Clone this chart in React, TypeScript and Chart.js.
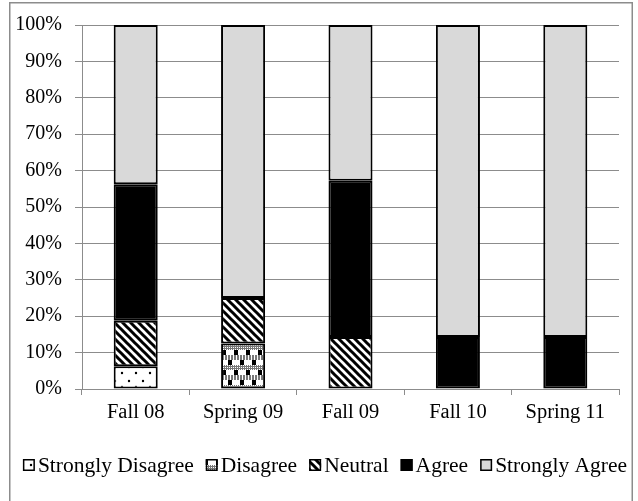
import React, { useEffect, useRef } from "react";
import { Chart, registerables } from "chart.js";

Chart.register(...registerables);

const categories = ["Fall 08", "Spring 09", "Fall 09", "Fall 10", "Spring 11"];
const stronglyDisagree = [6.25, 0, 0, 0, 0];
const disagree = [0, 12.5, 0, 0, 0];
const neutral = [12.5, 12.5, 14.3, 0, 0];
const agree = [37.5, 0, 42.9, 14.3, 14.3];
const stronglyAgree = [43.75, 75, 42.8, 85.7, 85.7];
const yTicks = [0, 10, 20, 30, 40, 50, 60, 70, 80, 90, 100];

const FONT = "'Liberation Serif', 'Times New Roman', serif";

function makeTile(w: number, h: number, draw: (c: CanvasRenderingContext2D) => void): CanvasPattern | string {
  const cv = document.createElement("canvas");
  cv.width = w;
  cv.height = h;
  const c = cv.getContext("2d");
  if (!c) return "#888";
  draw(c);
  const p = c.createPattern(cv, "repeat");
  return p || "#888";
}

export default function App() {
  const ref = useRef<HTMLCanvasElement>(null);
  useEffect(() => {
    document.body.style.margin = "0";
    const canvas = ref.current;
    if (!canvas) return;

    const dots = makeTile(14, 14, (c) => {
      c.fillStyle = "#fff";
      c.fillRect(0, 0, 14, 14);
      c.fillStyle = "#000";
      c.beginPath();
      c.arc(3, 3, 1.2, 0, Math.PI * 2);
      c.arc(10, 9, 1.2, 0, Math.PI * 2);
      c.fill();
    });
    const checker = makeTile(12, 20, (c) => {
      c.fillStyle = "#fff";
      c.fillRect(0, 0, 12, 20);
      c.fillStyle = "#000";
      c.fillRect(0, 0, 4, 5);
      c.fillRect(6, 10, 4, 5);
      c.fillStyle = "#777";
      for (let x = 0; x < 12; x += 2) {
        c.fillRect(x, 5, 1, 5);
        c.fillRect(x + 1, 6, 1, 1);
        c.fillRect(x + 1, 8, 1, 1);
      }
      for (let x = 0; x < 12; x += 3) c.fillRect(x, 15, 2, 5);
    });
    const stripes = makeTile(8, 8, (c) => {
      c.fillStyle = "#fff";
      c.fillRect(0, 0, 8, 8);
      c.strokeStyle = "#000";
      c.lineWidth = 3;
      c.beginPath();
      c.moveTo(-2, -2);
      c.lineTo(10, 10);
      c.moveTo(-10, -2);
      c.lineTo(2, 10);
      c.moveTo(6, -2);
      c.lineTo(18, 10);
      c.stroke();
    });

    const borderPlugin = {
      id: "outerBorder",
      beforeDraw(chart: any) {
        const ctx = chart.ctx;
        ctx.save();
        ctx.fillStyle = "#fff";
        ctx.fillRect(0, 0, chart.width, chart.height);
        ctx.strokeStyle = "#8c8c8c";
        ctx.lineWidth = 1.5;
        ctx.strokeRect(9.75, 2.75, 622.5, 505);
        ctx.restore();
      },
    };

    const legendPlugin = {
      id: "customLegend",
      afterDraw(chart: any) {
        const ctx = chart.ctx;
        ctx.save();
        ctx.font = `21.5px ${FONT}`;
        const items = chart.data.datasets.map((d: any) => ({
          label: d.label,
          fill: d.backgroundColor,
          w: ctx.measureText(d.label).width,
        }));
        const box = 12;
        const gapText = 3;
        const gapItem = 12;
        const total =
          items.reduce((a: number, it: any) => a + box + gapText + it.w, 0) + gapItem * (items.length - 1);
        let x = 325 - total / 2;
        const cy = 465;
        ctx.textBaseline = "middle";
        ctx.fillStyle = "#000";
        for (const it of items) {
          ctx.fillStyle = it.fill;
          ctx.fillRect(x, cy - box / 2, box, box);
          ctx.strokeStyle = "#000";
          ctx.lineWidth = 1.5;
          ctx.strokeRect(x + 0.75, cy - box / 2 + 0.75, box - 1.5, box - 1.5);
          ctx.fillStyle = "#000";
          ctx.fillText(it.label, x + box + gapText, cy + 1);
          x += box + gapText + it.w + gapItem;
        }
        ctx.restore();
      },
    };

    const mk = (label: string, data: number[], bg: any) => ({
      label,
      data,
      backgroundColor: bg,
      borderColor: "#000",
      borderWidth: 2,
      borderSkipped: false,
      categoryPercentage: 1,
      barPercentage: 0.41,
    });

    const chart = new Chart(canvas, {
      type: "bar",
      data: {
        labels: categories,
        datasets: [
          mk("Strongly Disagree", stronglyDisagree, dots),
          mk("Disagree", disagree, checker),
          mk("Neutral", neutral, stripes),
          mk("Agree", agree, "#000"),
          mk("Strongly Agree", stronglyAgree, "#d9d9d9"),
        ],
      },
      options: {
        animation: false,
        responsive: false,
        devicePixelRatio: 1,
        layout: { padding: { left: 0, right: 19, top: 23, bottom: 62 } },
        plugins: {
          tooltip: { enabled: false },
          legend: { display: false },
        },
        scales: {
          x: {
            stacked: true,
            grid: { display: true, drawOnChartArea: false, drawTicks: true, tickLength: 6, color: "#8c8c8c", offset: true },
            border: { display: true, color: "#8c8c8c" },
            ticks: { color: "#000", font: { family: FONT, size: 20.5 }, padding: 5, maxRotation: 0 },
            afterFit: (s: any) => {
              s.height = 50;
            },
          },
          y: {
            stacked: true,
            min: 0,
            max: 100,
            afterBuildTicks: (s: any) => {
              s.ticks = yTicks.map((v) => ({ value: v }));
            },
            grid: { color: "#8c8c8c", tickLength: 7, drawTicks: true },
            border: { display: true, color: "#8c8c8c" },
            ticks: {
              color: "#000",
              font: { family: FONT, size: 20 },
              padding: 13,
              callback: (v: any) => v + "%",
            },
            afterFit: (s: any) => {
              s.width = 82;
            },
          },
        },
      },
      plugins: [borderPlugin, legendPlugin],
    });
    return () => chart.destroy();
  }, []);
  return <canvas ref={ref} width={638} height={501} style={{ display: "block" }} />;
}
